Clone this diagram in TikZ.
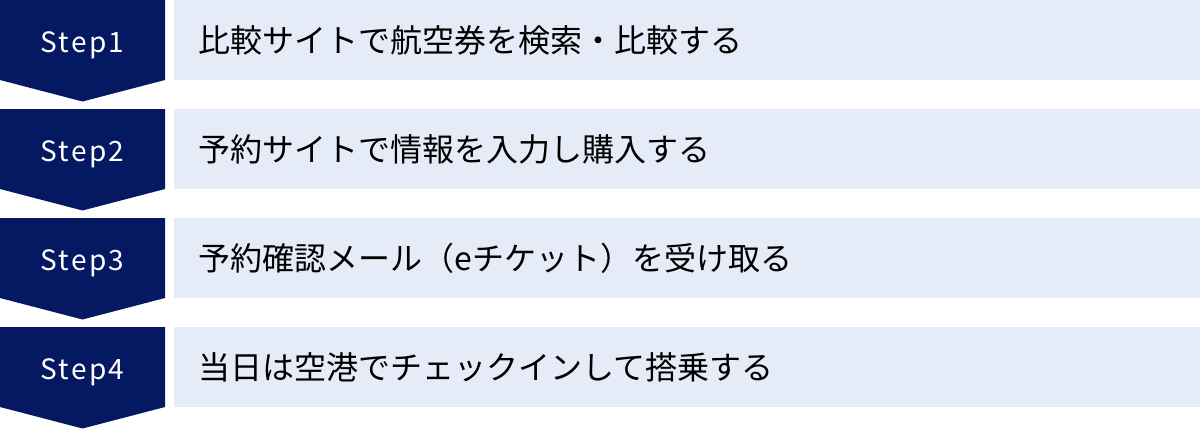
\documentclass[tikz,border=0pt]{standalone}
\usepackage{fontspec}
\setmainfont{Noto Sans CJK JP}
\newfontfamily\stepfont[LetterSpace=8]{Noto Sans CJK JP}
\usetikzlibrary{positioning}
\definecolor{stepnavy}{RGB}{5,24,98}
\definecolor{steplight}{RGB}{230,235,248}

\begin{document}
\begin{tikzpicture}[x=0.5pt,y=-0.5pt,
  steplabel/.style={text=white,inner sep=0pt,anchor=base,font=\stepfont\fontsize{14}{16}\selectfont},
  stepitem/.style={text=black,inner sep=0pt,anchor=base west,font=\fontsize{16}{18}\selectfont}]
\useasboundingbox (0,0) rectangle (1200,429);
\foreach \n/\txt in {1/比較サイトで航空券を検索・比較する,
                     2/予約サイトで情報を入力し購入する,
                     3/予約確認メール（eチケット）を受け取る,
                     4/当日は空港でチェックインして搭乗する} {
\pgfmathsetmacro{\ytop}{(\n-1)*109}
\fill[steplight] (174,\ytop) rectangle (1200,\ytop+80);
\fill[stepnavy] (0,\ytop) -- (165,\ytop) -- (165,\ytop+80) -- (82.5,\ytop+101.5) -- (0,\ytop+80) -- cycle;
\node[steplabel] (step\n) at (82.5,\ytop+52) {Step\n};
\node[stepitem] (item\n) at (198.5,\ytop+52) {\txt};
}
\end{tikzpicture}
\end{document}
